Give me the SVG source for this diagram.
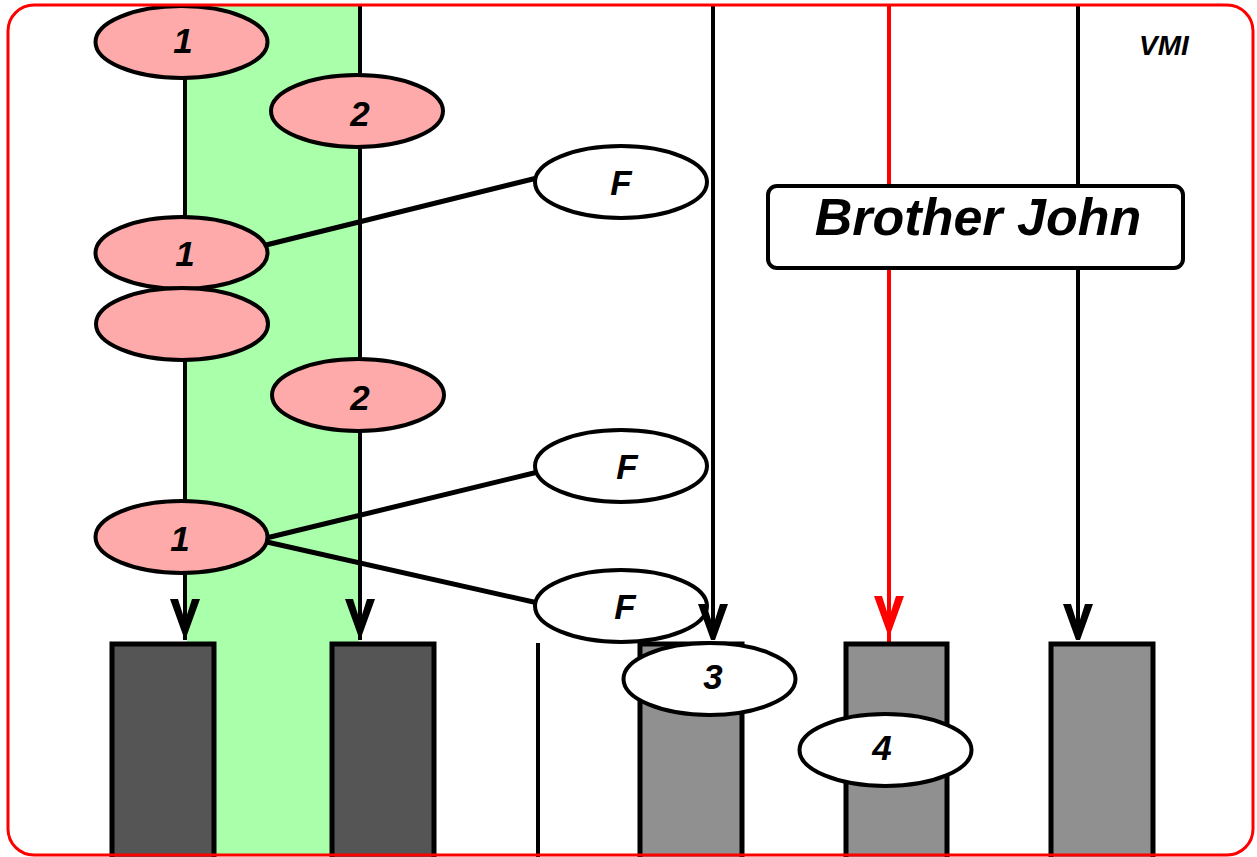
<svg xmlns="http://www.w3.org/2000/svg" width="1257" height="857" viewBox="0 0 1257 857">
<defs>
<style>
.pink{fill:#ffaaaa;stroke:#000;stroke-width:4}
.wht{fill:#fff;stroke:#000;stroke-width:4}
.dark{fill:#555555;stroke:#000;stroke-width:5}
.gray{fill:#909090;stroke:#000;stroke-width:5}
.ln{stroke:#000;stroke-width:4;fill:none}
.sl{stroke:#000;stroke-width:5;fill:none}
.red{stroke:#ff0000;stroke-width:4;fill:none}
.lbl{font-family:"Liberation Sans",Arial,sans-serif;font-weight:bold;font-style:italic;font-size:35px;text-anchor:middle;fill:#000}
</style>
<polygon id="ah" points="-15,0 -7,0 0,22 7,0 15,0 2,36 -2,36"/>
</defs>
<rect x="0" y="0" width="1257" height="857" fill="#fff"/>
<rect x="187" y="5" width="172" height="850" fill="#aaffaa"/>
<g id="connectors">
<line class="ln" x1="185" y1="78" x2="185" y2="640"/>
<line class="ln" x1="360" y1="5" x2="360" y2="640"/>
<line class="ln" x1="713" y1="5" x2="713" y2="640"/>
<line class="red" x1="889" y1="5" x2="889" y2="645"/>
<line class="ln" x1="1078" y1="5" x2="1078" y2="640"/>
<line class="ln" x1="538" y1="643" x2="538" y2="857"/>
<line class="sl" x1="262" y1="246" x2="537" y2="178"/>
<line class="sl" x1="258" y1="540" x2="538" y2="472"/>
<line class="sl" x1="258" y1="540" x2="538" y2="603"/>
<use href="#ah" x="185" y="599" fill="#000"/>
<use href="#ah" x="360" y="599" fill="#000"/>
<use href="#ah" x="889" y="596" fill="#ff0000"/>
<use href="#ah" x="1078" y="604" fill="#000"/>
</g>
<g id="bar1"><rect class="dark" x="112" y="644" width="102" height="220"/></g>
<g id="bar2"><rect class="dark" x="332" y="644" width="102" height="220"/></g>
<g id="bar3"><rect class="gray" x="640" y="644" width="102" height="220"/></g>
<g id="bar4"><rect class="gray" x="846" y="644" width="101" height="220"/></g>
<g id="bar5"><rect class="gray" x="1051" y="644" width="102" height="220"/></g>
<g id="n1a"><ellipse class="pink" cx="181.5" cy="42" rx="86" ry="36"/><text class="lbl" x="183" y="53">1</text></g>
<g id="n2a"><ellipse class="pink" cx="357" cy="111" rx="86" ry="36"/><text class="lbl" x="360" y="126">2</text></g>
<g id="nFa"><ellipse class="wht" cx="621" cy="182" rx="86" ry="36"/><text class="lbl" x="621" y="195">F</text></g>
<g id="n1b"><ellipse class="pink" cx="181.5" cy="253" rx="86" ry="36"/><text class="lbl" x="185" y="266">1</text></g>
<g id="nBlank"><ellipse class="pink" cx="182" cy="324" rx="86" ry="36"/></g>
<g id="n2b"><ellipse class="pink" cx="358" cy="395" rx="86" ry="36"/><text class="lbl" x="360" y="410">2</text></g>
<g id="nFb"><ellipse class="wht" cx="621" cy="466" rx="86" ry="36"/><text class="lbl" x="627" y="479">F</text></g>
<g id="n1c"><ellipse class="pink" cx="181.5" cy="537" rx="86" ry="36"/><text class="lbl" x="180" y="551">1</text></g>
<g id="nFc"><ellipse class="wht" cx="621" cy="606" rx="86" ry="36"/><text class="lbl" x="625" y="619">F</text></g>
<use href="#ah" x="713" y="604" fill="#000"/>
<g id="n3"><ellipse class="wht" cx="709.5" cy="679" rx="86" ry="36"/><text class="lbl" x="713" y="689">3</text></g>
<g id="n4"><ellipse class="wht" cx="885.5" cy="750" rx="86" ry="36"/><text class="lbl" x="882" y="760">4</text></g>
<g id="brotherJohn"><rect x="768" y="186" width="415" height="82" rx="9" fill="#fff" stroke="#000" stroke-width="4"/><text x="978" y="235" font-family="'Liberation Sans',Arial,sans-serif" font-weight="bold" font-style="italic" font-size="52" text-anchor="middle">Brother John</text></g>
<g id="vmi"><text x="1164" y="55" font-family="'Liberation Sans',Arial,sans-serif" font-weight="bold" font-style="italic" font-size="28" text-anchor="middle">VMI</text></g>
<rect x="8" y="5" width="1245" height="850" rx="26" fill="none" stroke="#ff0000" stroke-width="3"/>
</svg>
